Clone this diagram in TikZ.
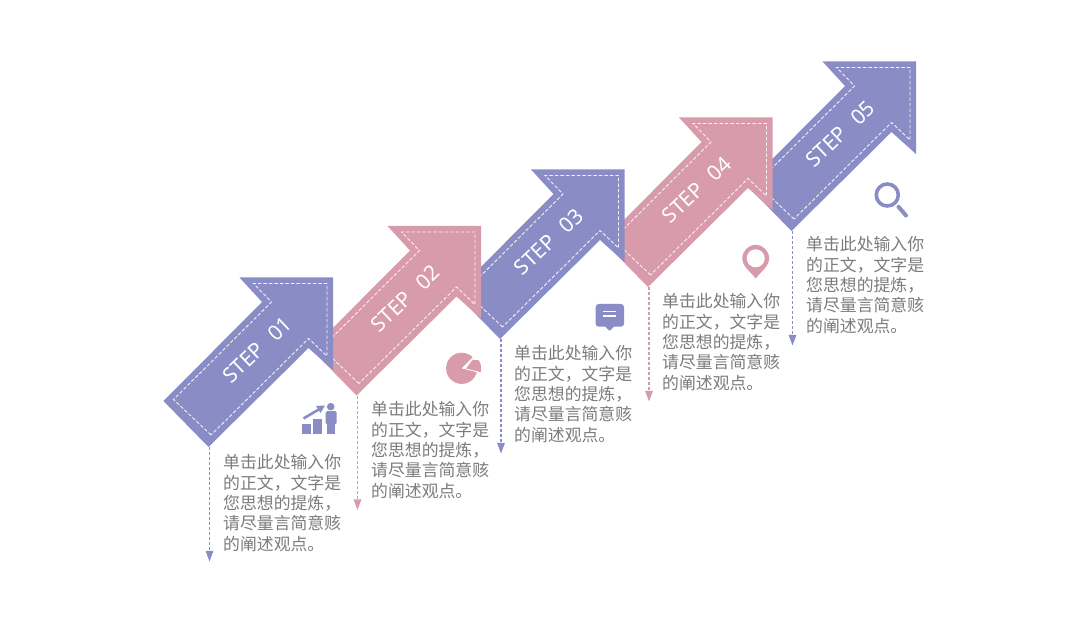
\documentclass[tikz,border=0pt]{standalone}
\usepackage{fontspec}
\setmainfont{Noto Sans}
\newfontfamily\cjk{Noto Sans CJK SC}
\usetikzlibrary{arrows.meta}
\definecolor{pu}{HTML}{8A8CC6}
\definecolor{pk}{HTML}{D89BAB}
\definecolor{tx}{HTML}{7C7C7C}
\definecolor{dsh}{HTML}{F4F1F6}
\tikzset{
  dashline/.style={draw=dsh,line width=0.9pt,dash pattern=on 3.5pt off 2pt},
  dropline/.style={line width=1.1pt,dash pattern=on 3pt off 2pt,-{Triangle[length=10.5pt,width=7.5pt]}},
  steplabel/.style={text=white,font=\fontsize{21}{21}\selectfont,rotate=43.5,inner sep=0pt},
  bodytext/.style={text=tx,anchor=north west,inner sep=0pt,align=left,font=\cjk\fontsize{16.85}{20.3}\selectfont}
}
\newcommand{\steparrow}[5]{%
  \begin{scope}[shift={(#2,#3)}]
    \fill[#4] (208.5,447) -- (163.5,401) -- (262,302) -- (239.5,277.5) -- (333,277.5) -- (333,370) -- (308.5,348) -- cycle;
    \draw[dashline] (211,435) -- (173.5,399.5) -- (271.5,302) -- (253.5,283.5) -- (327,283.5) -- (327,356) -- (308.5,338.5) -- cycle;
    \node[steplabel] (#1label) at (257.3,350) {STEP\hspace{0.4em} 0#5};
    \coordinate (#1tip) at (209.5,447.5);
    \coordinate (#1end) at (209.5,561.5);
    \draw[dropline,#4] (#1tip) -- (#1end);
  \end{scope}}
\newcommand{\bodyblock}{单击此处输入你\\的正文，文字是\\您思想的提炼，\\请尽量言简意赅\\的阐述观点。}
\begin{document}
\begin{tikzpicture}[x=1pt,y=-1pt]
\fill[white] (0,0) rectangle (1080,617);
\useasboundingbox (0,0) rectangle (1080,617);
\steparrow{e}{583}{-216}{pu}{5}
\steparrow{d}{439.5}{-160}{pk}{4}
\steparrow{c}{291.5}{-108}{pu}{3}
\steparrow{b}{148}{-51.5}{pk}{2}
\steparrow{a}{0}{0}{pu}{1}
\node[bodytext] (atext) at (223,454.5) {\bodyblock};
\node[bodytext] (btext) at (371,401.5) {\bodyblock};
\node[bodytext] (ctext) at (514,345.5) {\bodyblock};
\node[bodytext] (dtext) at (662,293.5) {\bodyblock};
\node[bodytext] (etext) at (806,236.5) {\bodyblock};
% chart icon
\fill[pu] (302.3,424.5) rectangle (311,434.3);
\fill[pu] (313.3,418.8) rectangle (322.3,434.3);
\draw[pu,line width=2.6pt] (303.5,418.5) -- (319,409.3);
\fill[pu] (325,405.5) -- (316,406) -- (320.5,413) -- cycle;
\fill[pu] (330.7,406.7) circle (3.8);
\fill[pu,rounded corners=1.5pt] (325.7,411.2) rectangle (336.7,424.5);
\fill[pu] (327.3,420) rectangle (330.6,434.3);
\fill[pu] (331.2,420) rectangle (334.5,434.3);
% pie icon
\fill[pk] (461.7,368.3) circle (15.6);
\fill[white] (461.7,368.3) -- (475,355) -- (484,352) -- (484,374) -- cycle;
\fill[pk] (466,368.5) -- (472.7,359.7) -- (478.9,360.3) arc[start angle=-31,end angle=14,radius=15.6] -- cycle;
% speech icon
\fill[pu,rounded corners=3pt] (595.7,304) rectangle (624,326.7);
\fill[pu,rounded corners=1pt] (604.5,326) -- (609.5,331) -- (614.5,326) -- cycle;
\draw[white,line width=1.1pt] (603.3,311.7) -- (616,311.7) (603.3,316) -- (616,316);
% pin icon
\fill[pk] (755.7,278.5) .. controls (750,271) and (742.3,266.5) .. (742.3,258.3) arc[start angle=180,end angle=360,radius=13.4] .. controls (769.1,266.5) and (761.4,271) .. (755.7,278.5) -- cycle;
\fill[white] (755.7,258.3) circle (9);
% search icon
\draw[pu,line width=3.6pt] (887.3,195) circle (11);
\draw[pu,line width=4pt,line cap=round] (898.5,206.8) -- (906,215.5);
\end{tikzpicture}
\end{document}
